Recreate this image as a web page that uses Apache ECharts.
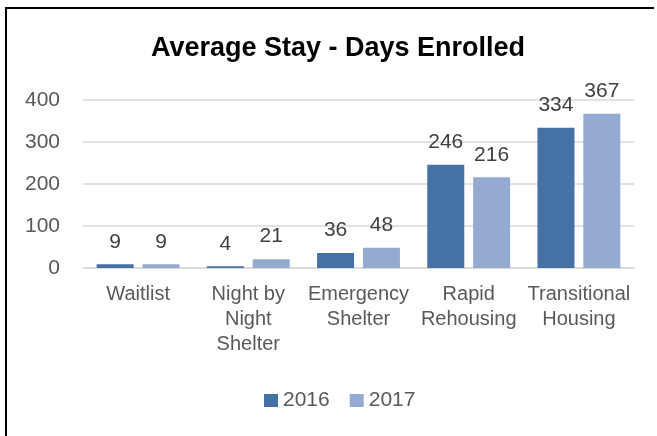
<!DOCTYPE html>
<html>
<head>
<meta charset="utf-8">
<script src="https://cdn.jsdelivr.net/npm/echarts@6/dist/echarts.min.js"></script>
<style>
  html, body { margin: 0; padding: 0; background: #fff; }
  .wrap { position: relative; width: 657px; height: 436px; overflow: hidden; }
  #chart { position: absolute; left: 0; top: 0; width: 657px; height: 436px; }
  /* chart frame: only top and left edges show in the picture */
  .frame {
    position: absolute; left: 5px; top: 7px; width: 647px; height: 440px;
    border-top: 2px solid #000; border-left: 2px solid #000;
    pointer-events: none;
  }
</style>
</head>
<body>
<div class="wrap">
  <div id="chart"></div>
  <div class="frame"></div>
</div>
<script>
const categories = ['Waitlist', 'Night by\nNight\nShelter', 'Emergency\nShelter', 'Rapid\nRehousing', 'Transitional\nHousing'];
const seriesNames = ['2016', '2017'];
const values2016 = [9, 4, 36, 246, 334];
const values2017 = [9, 21, 48, 216, 367];
const yTicks = [0, 100, 200, 300, 400];

const font = '"Liberation Sans", Arial, sans-serif';
const colors = ['#4571a5', '#95aad1'];

const chart = echarts.init(document.getElementById('chart'), null, { renderer: 'canvas' });

const makeSeries = (name, data, color) => ({
  name: name,
  type: 'bar',
  data: data,
  barWidth: 37,
  barGap: '24%',
  itemStyle: { color: color },
  label: {
    show: true,
    position: 'top',
    distance: 12,
    color: '#404040',
    fontSize: 21,
    fontFamily: font
  }
});

const option = {
  animation: false,
  backgroundColor: '#fff',
  color: colors,
  title: {
    text: 'Average Stay - Days Enrolled',
    left: 333,
    textAlign: 'center',
    top: 30,
    textStyle: {
      color: '#000',
      fontSize: 27,
      fontWeight: 'bold',
      fontFamily: font
    }
  },
  legend: {
    data: seriesNames,
    top: 385,
    left: 259,
    icon: 'rect',
    itemWidth: 14,
    itemHeight: 13,
    itemGap: 20,
    textStyle: { color: '#595959', fontSize: 21, fontFamily: font }
  },
  grid: {
    left: 83,
    right: 23,
    top: 100,
    bottom: 168,
    containLabel: false
  },
  xAxis: {
    type: 'category',
    data: categories,
    axisTick: { show: false },
    axisLine: { lineStyle: { color: '#d9d9d9', width: 1.5 } },
    axisLabel: {
      interval: 0,
      margin: 14,
      color: '#595959',
      fontSize: 20,
      lineHeight: 25,
      fontFamily: font
    }
  },
  yAxis: {
    type: 'value',
    min: yTicks[0],
    max: yTicks[yTicks.length - 1],
    interval: 100,
    axisLine: { show: false },
    axisTick: { show: false },
    splitLine: { lineStyle: { color: '#d9d9d9', width: 1.5 } },
    axisLabel: {
      margin: 23,
      color: '#595959',
      fontSize: 21,
      fontFamily: font
    }
  },
  series: [
    makeSeries(seriesNames[0], values2016, colors[0]),
    makeSeries(seriesNames[1], values2017, colors[1])
  ]
};

chart.setOption(option);
</script>
</body>
</html>
